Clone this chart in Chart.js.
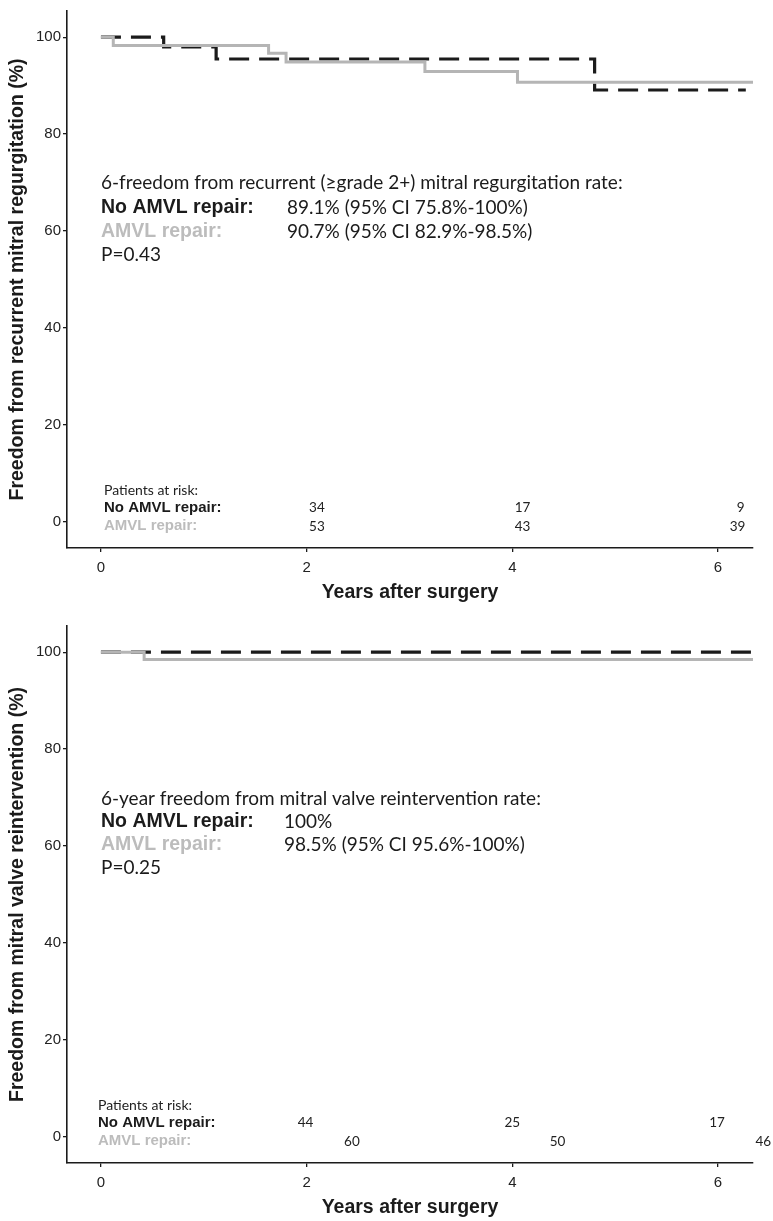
<!DOCTYPE html>
<html>
<head>
<meta charset="utf-8">
<script src="https://cdn.jsdelivr.net/npm/chart.js@4.4.1/dist/chart.umd.min.js"></script>
<style>
html,body{margin:0;padding:0;background:#fff;}
.wrap{position:relative;width:773px;}
canvas{display:block;}
</style>
</head>
<body>
<div class="wrap" style="height:615px"><canvas id="c1"></canvas></div>
<div class="wrap" style="height:606px"><canvas id="c2"></canvas></div>
<script>
// ---------- DATA ----------
const xTicks = [0, 2, 4, 6];
const yTicks = [0, 20, 40, 60, 80, 100];

// Chart 1: freedom from recurrent (>=grade 2+) MR
const mrNoRepairTimes = [0, 0.61, 1.12, 4.80, 6.27];
const mrNoRepairSurv  = [100, 98.0, 95.5, 89.1, 89.1];
const mrRepairTimes   = [0, 0.12, 1.63, 1.80, 3.15, 4.05, 6.34];
const mrRepairSurv    = [100, 98.3, 96.7, 94.9, 92.9, 90.7, 90.7];

// Chart 2: freedom from mitral valve reintervention
const reNoRepairTimes = [0, 6.34];
const reNoRepairSurv  = [100, 100];
const reRepairTimes   = [0, 0.42, 6.34];
const reRepairSurv    = [100, 98.5, 98.5];

// Patients at risk
const mrRiskNo        = [34, 17, 9];
const mrRiskNoAt      = [2.1, 4.1, 6.22];
const mrRiskRepair    = [53, 43, 39];
const mrRiskRepairAt  = [2.1, 4.1, 6.19];
const reRiskNo        = [44, 25, 17];
const reRiskNoAt      = [1.99, 4.0, 5.99];
const reRiskRepair    = [60, 50, 46];
const reRiskRepairAt  = [2.44, 4.44, 6.44];

// Texts
const mrTitle = 'Freedom from recurrent mitral regurgitation (%)';
const reTitle = 'Freedom from mitral valve reintervention (%)';
const xTitle = 'Years after surgery';
const mrSummary = ['6-freedom from recurrent (\u2265grade 2+) mitral regurgitation rate:',
                   '89.1% (95% CI 75.8%-100%)', '90.7% (95% CI 82.9%-98.5%)', 'P=0.43'];
const reSummary = ['6-year freedom from mitral valve reintervention rate:',
                   '100%', '98.5% (95% CI 95.6%-100%)', 'P=0.25'];
const groupNo = 'No AMVL repair:';
const groupRepair = 'AMVL repair:';

// ---------- STYLE ----------
const BLACK = '#1b1b1b';
const GREY = '#b5b5b5';
const GREY_TXT = '#bcbcbc';
const HUMANIST = 'Lato, "Open Sans", sans-serif';
const ARIAL = '"Liberation Sans", Arial, sans-serif';

function pts(xs, ys) { return xs.map((x, i) => ({x: x, y: ys[i]})); }

function makeChart(id, H, cfg) {
  const annot = {
    id: 'annot',
    afterDraw(chart) {
      const ctx = chart.ctx;
      const xs = chart.scales.x;
      ctx.save();
      ctx.textBaseline = 'middle';
      ctx.textAlign = 'left';
      // summary block
      const S = cfg.summary, L = cfg.sumLines, X0 = cfg.sumX;
      ctx.fillStyle = BLACK;
      ctx.font = '19px ' + HUMANIST;
      ctx.fillText(S[0], X0, L[0]);
      ctx.font = 'bold 19.5px ' + ARIAL;
      ctx.fillStyle = BLACK;
      ctx.fillText(groupNo, X0, L[1]);
      ctx.fillStyle = GREY_TXT;
      ctx.fillText(groupRepair, X0, L[2]);
      ctx.font = '19px ' + HUMANIST;
      ctx.fillStyle = BLACK;
      ctx.fillText(S[1], cfg.valX, L[1]);
      ctx.fillText(S[2], cfg.valX, L[2]);
      ctx.fillText(S[3], X0, L[3]);
      // risk table
      ctx.font = '14px ' + HUMANIST;
      ctx.fillStyle = '#222';
      ctx.fillText('Patients at risk:', cfg.riskX, 490);
      ctx.font = 'bold 15px ' + ARIAL;
      ctx.fillStyle = BLACK;
      ctx.fillText(groupNo, cfg.riskX, 508);
      ctx.fillStyle = GREY_TXT;
      ctx.fillText(groupRepair, cfg.riskX, 526);
      ctx.font = '13.5px ' + HUMANIST;
      ctx.fillStyle = '#222';
      ctx.textAlign = 'center';
      cfg.riskNo.forEach((v, i) => ctx.fillText(String(v), xs.getPixelForValue(cfg.riskNoAt[i]), 508));
      cfg.riskRepair.forEach((v, i) => ctx.fillText(String(v), xs.getPixelForValue(cfg.riskRepairAt[i]), 527));
      ctx.restore();
    }
  };

  return new Chart(document.getElementById(id), {
    type: 'line',
    data: {
      datasets: [
        { label: 'AMVL repair', data: pts(cfg.repT, cfg.repS), stepped: 'before',
          borderColor: GREY, borderWidth: 3, pointRadius: 0, fill: false },
        { label: 'No AMVL repair', data: pts(cfg.noT, cfg.noS), stepped: 'before',
          borderColor: BLACK, borderWidth: 3.2, borderDash: [20, 10], pointRadius: 0, fill: false }
      ]
    },
    options: {
      responsive: true,
      maintainAspectRatio: false,
      animation: false,
      devicePixelRatio: 1,
      layout: { padding: { top: 7, right: 20, left: 0, bottom: 0 } },
      plugins: { legend: { display: false }, tooltip: { enabled: false } },
      scales: {
        x: {
          type: 'linear', min: -0.33, max: 6.34,
          afterBuildTicks(s) { s.ticks = xTicks.map(v => ({value: v})); },
          afterFit(s) { s.height = H - 548; },
          grid: { drawOnChartArea: false, drawTicks: true, tickLength: 4, color: BLACK, lineWidth: 1.3 },
          border: { display: true, color: BLACK, width: 1.6 },
          ticks: { color: '#222', font: { family: ARIAL, size: 15 }, padding: 7, maxRotation: 0 },
          title: { display: true, text: xTitle, color: BLACK,
                   font: { family: ARIAL, size: 19.5, weight: 'bold' },
                   padding: { top: 0, bottom: H - 593 - 11.7 } }
        },
        y: {
          type: 'linear', min: -5.4, max: 105.4,
          afterBuildTicks(s) { s.ticks = yTicks.map(v => ({value: v})); },
          afterFit(s) { s.width = 67; },
          grid: { drawOnChartArea: false, drawTicks: true, tickLength: 4, color: BLACK, lineWidth: 1.3 },
          border: { display: true, color: BLACK, width: 1.6 },
          ticks: { color: '#222', font: { family: ARIAL, size: 15 }, padding: 2 },
          title: { display: true, text: cfg.yTitle, color: BLACK,
                   font: { family: ARIAL, size: 19.5, weight: 'bold' },
                   padding: { top: 6, bottom: 0 } }
        }
      }
    },
    plugins: [annot]
  });
}

makeChart('c1', 615, {
  repT: mrRepairTimes, repS: mrRepairSurv, noT: mrNoRepairTimes, noS: mrNoRepairSurv,
  yTitle: mrTitle, summary: mrSummary, sumLines: [183, 208, 232, 255], sumX: 101, valX: 287, riskX: 104,
  riskNo: mrRiskNo, riskNoAt: mrRiskNoAt, riskRepair: mrRiskRepair, riskRepairAt: mrRiskRepairAt
});
makeChart('c2', 606, {
  repT: reRepairTimes, repS: reRepairSurv, noT: reNoRepairTimes, noS: reNoRepairSurv,
  yTitle: reTitle, summary: reSummary, sumLines: [184, 207, 230, 253], sumX: 101, valX: 284, riskX: 98,
  riskNo: reRiskNo, riskNoAt: reRiskNoAt, riskRepair: reRiskRepair, riskRepairAt: reRiskRepairAt
});
</script>
</body>
</html>
